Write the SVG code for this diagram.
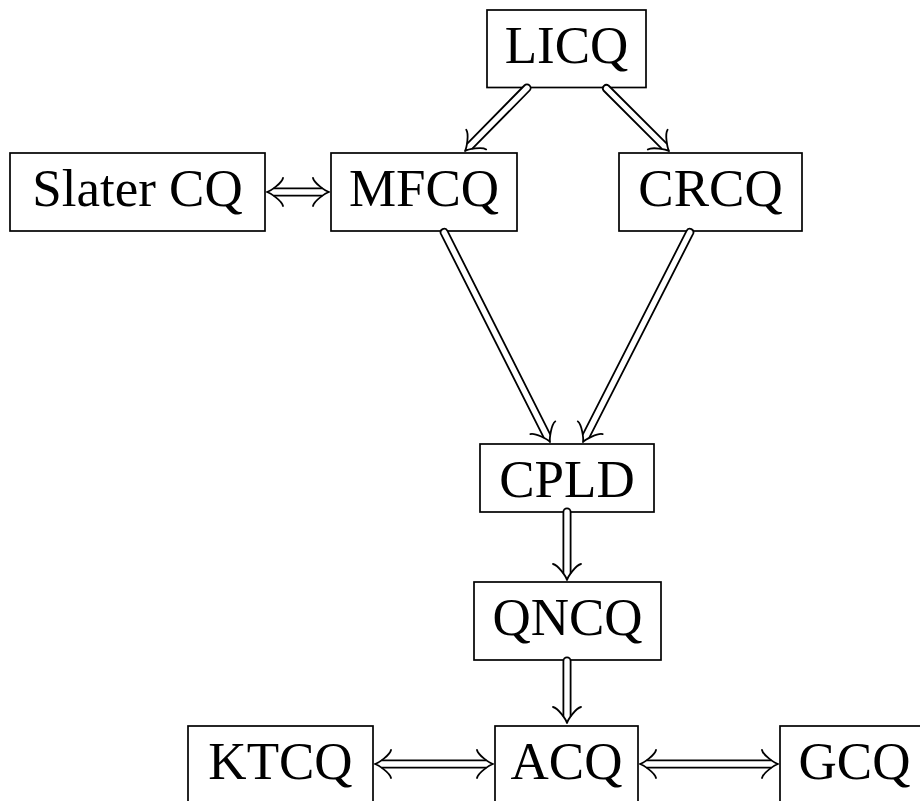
<svg xmlns="http://www.w3.org/2000/svg" width="920" height="801" viewBox="0 0 920 801">
<style>
.box{fill:#fff;stroke:#000;stroke-width:1.7}
.lbl{font-family:"Liberation Serif","Times New Roman",serif;font-size:53px;fill:#000;text-anchor:middle}
.dl{fill:#fff;stroke:#000;stroke-width:1.8;stroke-linejoin:round}
</style>
<defs>
<path id="tip" d="M-16,-14 C-15,-8.75 -3.2,-0.9 0,0 M-16,14 C-15,8.75 -3.2,0.9 0,0" fill="none" stroke="#000" stroke-width="1.8" stroke-linecap="round"/>
</defs>
<rect width="920" height="801" fill="#fff"/>
<g id="LICQ"><rect class="box" x="487" y="10" width="159" height="77.5"/><text class="lbl" x="566.5" y="63">LICQ</text></g>
<g id="SlaterCQ"><rect class="box" x="10" y="153" width="255" height="78"/><text class="lbl" x="137.5" y="206">Slater CQ</text></g>
<g id="MFCQ"><rect class="box" x="331" y="153" width="186" height="78"/><text class="lbl" x="424" y="206">MFCQ</text></g>
<g id="CRCQ"><rect class="box" x="619" y="153" width="183" height="78"/><text class="lbl" x="710.5" y="206">CRCQ</text></g>
<g id="CPLD"><rect class="box" x="480" y="444" width="174" height="68"/><text class="lbl" x="567" y="497">CPLD</text></g>
<g id="QNCQ"><rect class="box" x="474" y="582" width="187" height="78"/><text class="lbl" x="567.5" y="635">QNCQ</text></g>
<g id="KTCQ"><rect class="box" x="188" y="726" width="185" height="78"/><text class="lbl" x="280.5" y="779">KTCQ</text></g>
<g id="ACQ"><rect class="box" x="495" y="726" width="143" height="78"/><text class="lbl" x="566.5" y="779">ACQ</text></g>
<g id="GCQ"><rect class="box" x="780" y="726" width="149" height="78"/><text class="lbl" x="854.5" y="779">GCQ</text></g>
<g id="connectors">
<path class="dl" d="M467.0,143.8 L524.4,85.5 A3.6,3.6 0 0 1 529.6,90.5 L472.1,148.9"/>
<use href="#tip" transform="translate(465,151) rotate(134.53)"/>
<path class="dl" d="M661.9,148.9 L603.5,90.5 A3.6,3.6 0 0 1 608.5,85.5 L667.0,143.9"/>
<use href="#tip" transform="translate(669,151) rotate(45)"/>
<path class="dl" d="M543.9,437.8 L440.8,233.6 A3.6,3.6 0 0 1 447.2,230.4 L550.3,434.6"/>
<use href="#tip" transform="translate(550,442) rotate(63.22)"/>
<path class="dl" d="M582.7,434.6 L686.8,230.4 A3.6,3.6 0 0 1 693.2,233.6 L589.2,437.8"/>
<use href="#tip" transform="translate(583,442) rotate(116.99)"/>
<path class="dl" d="M563.4,573.5 L563.4,512 A3.6,3.6 0 0 1 570.6,512 L570.6,573.5"/>
<use href="#tip" transform="translate(567,580) rotate(90)"/>
<path class="dl" d="M563.4,716.5 L563.4,661 A3.6,3.6 0 0 1 570.6,661 L570.6,716.5"/>
<use href="#tip" transform="translate(567,723) rotate(90)"/>
<path class="dl" d="M273.5,188.4 L322.5,188.4 M273.5,195.6 L322.5,195.6"/>
<use href="#tip" transform="translate(267,192) rotate(180)"/>
<use href="#tip" transform="translate(329,192)"/>
<path class="dl" d="M381.5,760.4 L486.5,760.4 M381.5,767.6 L486.5,767.6"/>
<use href="#tip" transform="translate(375,764) rotate(180)"/>
<use href="#tip" transform="translate(493,764)"/>
<path class="dl" d="M646.5,760.4 L771.5,760.4 M646.5,767.6 L771.5,767.6"/>
<use href="#tip" transform="translate(640,764) rotate(180)"/>
<use href="#tip" transform="translate(778,764)"/>
</g>
</svg>
